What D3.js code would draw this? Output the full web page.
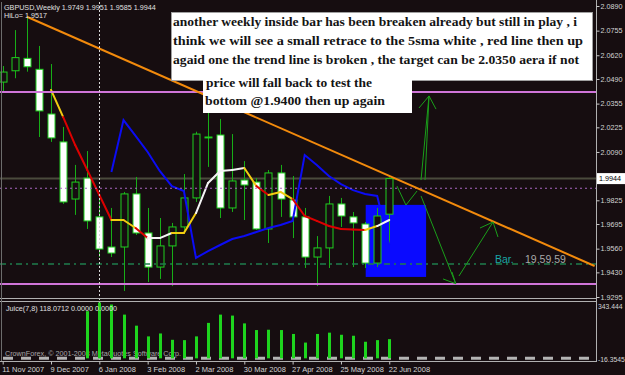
<!DOCTYPE html>
<html>
<head>
<meta charset="utf-8">
<script src="https://cdn.jsdelivr.net/npm/d3@7/dist/d3.min.js"></script>
<style>
  body { margin: 0; background: #160d10; }
  svg { display: block; }
  text { font-family: "Liberation Sans", Arial, sans-serif; }
</style>
</head>
<body>
<svg id="chart" width="625" height="375"></svg>
<script>
// GBPUSD weekly, 11 Nov 2007 .. 22 Jun 2008 (33 bars)
const symbol = "GBPUSD,Weekly"
const timeTicks = ["11 Nov 2007", "9 Dec 2007", "6 Jan 2008", "3 Feb 2008", "2 Mar 2008", "30 Mar 2008", "27 Apr 2008", "25 May 2008", "22 Jun 2008"]

const opens = [2.0473, 2.0535, 2.0603, 2.0543, 2.0298, 2.0145, 1.9832, 1.9947, 1.9734, 1.9569, 1.9569, 1.9860, 1.9646, 1.9459, 1.9575, 1.9679, 1.9838, 2.0172, 2.0183, 1.9783, 1.9936, 1.9925, 1.9668, 1.9975, 1.9827, 1.9734, 1.9514, 1.9564, 1.9805, 1.9734, 1.9695, 1.9481, 1.9749]
const highs = [2.0561, 2.0758, 2.0831, 2.0671, 2.0572, 2.0227, 2.0019, 2.0095, 1.9827, 1.9783, 1.9871, 1.9953, 1.9783, 1.9728, 1.9701, 1.9969, 2.0201, 2.0311, 2.0271, 2.0188, 2.0040, 1.9947, 1.9991, 2.0019, 1.9958, 1.9783, 1.9629, 1.9849, 1.9838, 1.9761, 1.9706, 1.9783, 1.9951]
const lows = [2.0419, 2.0494, 2.0530, 2.0172, 2.0145, 1.9805, 1.9745, 1.9668, 1.9514, 1.9514, 1.9328, 1.9635, 1.9377, 1.9394, 1.9355, 1.9651, 1.9816, 2.0008, 1.9728, 1.9761, 1.9717, 1.9662, 1.9591, 1.9734, 1.9618, 1.9454, 1.9355, 1.9454, 1.9679, 1.9459, 1.9454, 1.9459, 1.9585]
const closes = [2.0528, 2.0607, 2.0557, 2.0315, 2.0167, 1.9816, 1.9925, 1.9712, 1.9558, 1.9536, 1.9860, 1.9646, 1.9459, 1.9575, 1.9679, 1.9838, 2.0188, 2.0167, 1.9783, 1.9931, 1.9909, 1.9668, 1.9975, 1.9832, 1.9734, 1.9514, 1.9564, 1.9805, 1.9739, 1.9701, 1.9481, 1.9739, 1.9944]

// colored moving average, starts at bar 4
const maStart = 4
const maValues = [2.0430, 2.0282, 2.0128, 1.9991, 1.9854, 1.9717, 1.9717, 1.9673, 1.9618, 1.9618, 1.9646, 1.9646, 1.9755, 1.9920, 1.9986, 1.9991, 2.0002, 1.9903, 1.9854, 1.9871, 1.9832, 1.9739, 1.9712, 1.9684, 1.9668, 1.9665, 1.9662, 1.9684, 1.9717]
const maTrend = ["flat", "down", "down", "down", "down", "flat", "flat", "down", "up", "up", "flat", "flat", "up", "up", "up", "up", "flat", "down", "flat", "flat", "down", "down", "down", "down", "down", "down", "flat", "up"]

// blue line, starts at bar 9
const blueStart = 9
const blueValues = [1.9980, 2.0265, 2.0178, 2.0090, 1.9986, 1.9903, 1.9876, 1.9509, 1.9547, 1.9580, 1.9613, 1.9629, 1.9651, 1.9673, 1.9690, 1.9712, 2.0073, 2.0019, 1.9958, 1.9914, 1.9881, 1.9860, 1.9849, 1.9580]

// Juice(7,8) histogram
const juiceValues = [0, 0, 0, 0, 0, 0, 0, 290, 343.4, 331, 269, 201, 135, 153, 114, 112, 135, 218, 269, 263, 215, 174, 176, 174, 150, 97, 150, 158, 145, 139, 102, 112, 118.07]
const juiceTicks = [343.444, -16.3545]
const juiceHeader = [118.0712, 0, 0]

const priceTicks = [2.0890, 2.0755, 2.0620, 2.0490, 2.0355, 2.0225, 2.0090, 1.9825, 1.9695, 1.9560, 1.9430, 1.9295]
const hiLo = 1.9517

// drawn objects
const trendAnchors = [[2, 2.0831], [49, 1.9465]]
const targetLevel = 2.0419
const bottomLevel = 1.9366
const dottedLevel = 1.9891
const dashDotLevel = 1.9476
const boxBars = [30.05, 35.05]
const boxPrices = [1.9405, 1.9800]
const separatorBar = 8
const arrowPaths = [
  [[34.63, 1.9936], [35.29, 2.0397]],
  [[34.96, 1.9936], [35.29, 2.0397]],
  [[34.46, 2.0331], [35.29, 2.0397], [35.87, 2.0325]],
  [[32.64, 1.9903], [33.38, 1.9799], [34.3, 1.9876]],
  [[34.63, 1.9849], [37.5, 1.9368]],
  [[36.45, 1.9394], [37.5, 1.9368], [37.19, 1.9432]],
  [[37.77, 1.9410], [40.59, 1.9706]],
  [[39.51, 1.9673], [40.59, 1.9706], [41.0, 1.9624]],
]
const noteLines = [
  "another weekly inside bar has been breaken already but still in play , i",
  "think we will see a small retrace to the 5sma white , red line then up",
  "agaid one the trend line is broken , the target can be 2.0350 aera if not",
  "price will fall back to test the",
  "bottom @1.9400 then up again",
]

const bg = "#160d10"
const fmt4 = d3.format(".4f")
const maColor = { up: "#f4f4f4", flat: "#f2cc10", down: "#dc0000" }

const svg = d3.select("#chart")
svg.append("rect").attr("width", 625).attr("height", 375).attr("fill", bg)

const x = d3.scaleLinear().domain([0, 49]).range([2.7, 2.7 + 12.08 * 49])
const y = d3.scaleLinear().domain([1.9295, 2.0890]).range([297, 6])
const yJ = d3.scaleLinear().domain([-16.3545, 343.444]).range([361, 302.5])

svg.append("defs").append("clipPath").attr("id", "main-clip")
  .append("rect").attr("x", 0).attr("y", 2).attr("width", 596).attr("height", 296)

const plot = svg.append("g").attr("clip-path", "url(#main-clip)")

// blue target box (background object)
plot.append("rect")
  .attr("x", x(boxBars[0])).attr("width", x(boxBars[1]) - x(boxBars[0]))
  .attr("y", y(boxPrices[1])).attr("height", y(boxPrices[0]) - y(boxPrices[1]))
  .attr("fill", "#0a0aff")

// bid line
const last = closes[closes.length - 1]
plot.append("line")
  .attr("x1", 0).attr("x2", 596)
  .attr("y1", y(last)).attr("y2", y(last))
  .attr("stroke", "#4a4a3c").attr("stroke-width", 2)

// candles
const candles = opens.map((o, i) => ({ i, o, h: highs[i], l: lows[i], c: closes[i] }))

plot.selectAll(".wick").data(candles).join("line")
  .attr("class", "wick")
  .attr("x1", (d) => Math.round(x(d.i)) + 0.5).attr("x2", (d) => Math.round(x(d.i)) + 0.5)
  .attr("y1", (d) => y(d.h)).attr("y2", (d) => y(d.l))
  .attr("stroke", "#17ad17").attr("stroke-width", 1)

plot.selectAll(".body").data(candles).join("rect")
  .attr("class", "body")
  .attr("x", (d) => Math.round(x(d.i)) - 3)
  .attr("width", 7)
  .attr("y", (d) => y(Math.max(d.o, d.c)))
  .attr("height", (d) => Math.max(0.5, Math.abs(y(d.o) - y(d.c))))
  .attr("fill", (d) => (d.c >= d.o ? bg : "#ffffff"))
  .attr("stroke", "#1fd01f").attr("stroke-width", 1)

// blue line
const blueLine = d3.line().x((d) => x(d.i)).y((d) => y(d.v))
plot.append("path")
  .datum(blueValues.map((v, k) => ({ i: blueStart + k, v })))
  .attr("d", blueLine)
  .attr("fill", "none").attr("stroke", "#0c0cf4").attr("stroke-width", 2)

// colored MA segments
const maPts = maValues.map((v, k) => ({ i: maStart + k, v }))
plot.selectAll(".ma").data(d3.pairs(maPts)).join("line")
  .attr("class", "ma")
  .attr("x1", (d) => x(d[0].i)).attr("y1", (d) => y(d[0].v))
  .attr("x2", (d) => x(d[1].i)).attr("y2", (d) => y(d[1].v))
  .attr("stroke", (d, k) => maColor[maTrend[k]])
  .attr("stroke-width", 2).attr("stroke-linecap", "round")

// horizontal levels
const hLine = (p, color, width, dash) =>
  plot.append("line")
    .attr("x1", 0).attr("x2", 596).attr("y1", y(p)).attr("y2", y(p))
    .attr("stroke", color).attr("stroke-width", width)
    .attr("stroke-dasharray", dash)

hLine(dottedLevel, "#a867c0", 1, "2,3")
hLine(dashDotLevel, "#1f7d4c", 1.5, "6,4,2,4")
hLine(targetLevel, "#cf74d8", 2, null)
hLine(bottomLevel, "#cf74d8", 2, null)

// trend line
plot.append("line")
  .attr("x1", x(trendAnchors[0][0])).attr("y1", y(trendAnchors[0][1]))
  .attr("x2", x(trendAnchors[1][0])).attr("y2", y(trendAnchors[1][1]))
  .attr("stroke", "#f28a0c").attr("stroke-width", 2)

// hand drawn arrows
const arrowLine = d3.line().x((d) => x(d[0])).y((d) => y(d[1]))
plot.selectAll(".arrow").data(arrowPaths).join("path")
  .attr("class", "arrow")
  .attr("d", arrowLine)
  .attr("fill", "none").attr("stroke", "#1a9f1a").attr("stroke-width", 1)

// period separator (start of 2008)
svg.append("line")
  .attr("x1", Math.round(x(separatorBar)) + 0.5).attr("x2", Math.round(x(separatorBar)) + 0.5)
  .attr("y1", 2).attr("y2", 361)
  .attr("stroke", "#d8d8d8").attr("stroke-width", 1).attr("stroke-dasharray", "2,2")

// countdown label
plot.append("text").attr("x", 495).attr("y", 263)
  .attr("font-size", 10.5).attr("fill", "#1aa6a6").text("Bar.")
plot.append("text").attr("x", 525).attr("y", 263)
  .attr("font-size", 10.5).attr("fill", "#a8a8a8").text("19.59.59")

// note boxes
const notes = svg.append("g")
notes.append("rect").attr("x", 171.5).attr("y", 12.5).attr("width", 421).attr("height", 68)
  .attr("fill", "#ffffff").attr("stroke", "#a0a0a0")
notes.append("rect").attr("x", 203).attr("y", 80).attr("width", 209).attr("height", 33)
  .attr("fill", "#ffffff")

const noteX = [173, 173, 173, 206, 205]
const noteY = [26, 45, 64, 87, 105]
const noteW = [404, 410, 406, 166, 180]
notes.selectAll(".note").data(noteLines).join("text")
  .attr("class", "note")
  .attr("x", (d, k) => noteX[k]).attr("y", (d, k) => noteY[k])
  .attr("textLength", (d, k) => noteW[k]).attr("lengthAdjust", "spacingAndGlyphs")
  .style("font-family", '"Liberation Serif", "DejaVu Serif", serif')
  .attr("font-weight", "bold").attr("font-size", 12.5).attr("fill", "#141414")
  .text((d) => d)

// chart header
svg.append("text").attr("x", 4).attr("y", 10).attr("font-size", 7.2).attr("fill", "#e0e0e0")
  .text(`${symbol}  ${[opens, highs, lows, closes].map((a) => fmt4(a[a.length - 1])).join(" ")}`)
svg.append("text").attr("x", 4).attr("y", 18).attr("font-size", 7.2).attr("fill", "#e0e0e0")
  .text(`HiLo= ${fmt4(hiLo)}`)

// indicator window
svg.append("text").attr("x", 5).attr("y", 356).attr("font-size", 7.2).attr("fill", "#a8a8a8")
  .text("CrownForex, © 2001-2008 MetaQuotes Software Corp.")

svg.append("line")
  .attr("x1", 3).attr("x2", 596).attr("y1", yJ(0)).attr("y2", yJ(0))
  .attr("stroke", "#b4b4b4").attr("stroke-width", 3).attr("stroke-dasharray", "10,8")

svg.selectAll(".juice").data(juiceValues.map((v, i) => ({ i, v })).filter((d) => d.v > 0)).join("rect")
  .attr("class", "juice")
  .attr("x", (d) => Math.round(x(d.i)) - 1)
  .attr("width", 3)
  .attr("y", (d) => yJ(d.v))
  .attr("height", (d) => yJ(0) - yJ(d.v))
  .attr("fill", "#1ed41e")

svg.append("text").attr("x", 6).attr("y", 311).attr("font-size", 7.2).attr("fill", "#e0e0e0")
  .text(`Juice(7,8) ${juiceHeader.map((v) => v.toFixed(4)).join(" ")}`)

// frames
const frame = svg.append("g").attr("stroke", "#b0b0b0").attr("stroke-width", 1)
frame.append("line").attr("x1", 0).attr("x2", 596).attr("y1", 298.5).attr("y2", 298.5)
frame.append("line").attr("x1", 0).attr("x2", 596).attr("y1", 301.5).attr("y2", 301.5)
frame.append("line").attr("x1", 0).attr("x2", 597).attr("y1", 361.5).attr("y2", 361.5)
frame.append("line").attr("x1", 596.5).attr("x2", 596.5).attr("y1", 0).attr("y2", 362)
frame.append("line").attr("x1", 1.5).attr("x2", 1.5).attr("y1", 2).attr("y2", 361).attr("stroke", "#6c6c6c")

// price axis
const yAxis = svg.append("g").attr("transform", "translate(596.5,0)")
  .call(d3.axisRight(y).tickValues(priceTicks).tickSize(3).tickPadding(1).tickFormat(fmt4))
yAxis.select(".domain").remove()
yAxis.selectAll("line").attr("stroke", "#c8c8c8")
yAxis.selectAll("text").attr("fill", "#d4d4d4").attr("font-size", 7.2)
  .style("font-family", '"Liberation Sans", Arial, sans-serif')

// current price tag
svg.append("rect").attr("x", 597).attr("y", y(last) - 5.5).attr("width", 28).attr("height", 11).attr("fill", "#ffffff")
svg.append("text").attr("x", 599).attr("y", y(last) + 2.6).attr("font-size", 7.2).attr("fill", "#000").text(fmt4(last))

// juice axis
const jAxis = svg.append("g").attr("transform", "translate(596.5,0)")
  .call(d3.axisRight(yJ).tickValues(juiceTicks).tickSize(0).tickPadding(1.5).tickFormat((d) => String(d)))
jAxis.select(".domain").remove()
jAxis.selectAll("text").attr("fill", "#d4d4d4").attr("font-size", 6.8)
  .style("font-family", '"Liberation Sans", Arial, sans-serif')
  .attr("dy", (d) => (d > 0 ? "0.9em" : "0.1em"))

// time axis
const xAxis = svg.append("g").attr("transform", "translate(0,361.5)")
  .call(d3.axisBottom(x).tickValues(timeTicks.map((t, k) => k * 4)).tickSize(3).tickFormat((d) => timeTicks[d / 4]))
xAxis.select(".domain").remove()
xAxis.selectAll("line").attr("stroke", "#c8c8c8")
xAxis.selectAll("text").attr("fill", "#d4d4d4").attr("font-size", 7.5)
  .style("font-family", '"Liberation Sans", Arial, sans-serif')
  .attr("text-anchor", "start").attr("dx", -1).attr("y", 5).attr("dy", "0.71em")
</script>
</body>
</html>
